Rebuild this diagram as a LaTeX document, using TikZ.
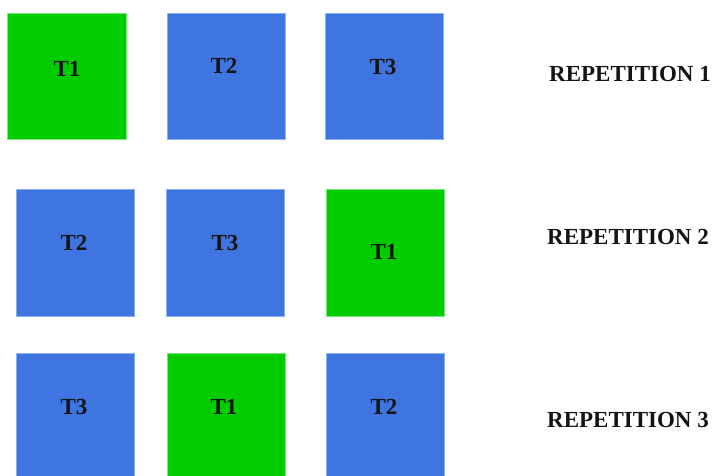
\documentclass[tikz,border=0pt]{standalone}
\usepackage{fontspec}
\setmainfont{Liberation Serif}
\definecolor{taskgreen}{RGB}{0,204,0}
\definecolor{taskblue}{RGB}{63,117,225}
\definecolor{edgegreen}{RGB}{120,230,120}
\definecolor{edgeblue}{RGB}{140,175,240}
\definecolor{labelink}{RGB}{20,20,20}
\begin{document}
\begin{tikzpicture}[x=1pt,y=-1pt,
  greenbox/.style={fill=taskgreen,draw=edgegreen,line width=0.6pt},
  bluebox/.style={fill=taskblue,draw=edgeblue,line width=0.6pt},
  tasklabel/.style={font=\fontsize{23}{23}\selectfont\bfseries,text=labelink,inner sep=0pt,text height=15pt,text depth=0pt,anchor=center},
  replabel/.style={tasklabel}]
\clip (0,0) rectangle (713,476);
\fill[white] (0,0) rectangle (713,476);
% row 1
\path[greenbox] (7.5,13) rectangle (126,139.5) coordinate (r1a);
\path[bluebox] (167,13) rectangle (285.5,139.5) coordinate (r1b);
\path[bluebox] (325,13) rectangle (443.5,139.5) coordinate (r1c);
\node[tasklabel] (l1a) at (67,69) {T1};
\node[tasklabel] (l1b) at (224,66) {T2};
\node[tasklabel] (l1c) at (383,67) {T3};
\node[replabel] (rep1) at (630,74) {REPETITION 1};
% row 2
\path[bluebox] (16,189.5) rectangle (134.5,316) coordinate (r2a);
\path[bluebox] (166,189.5) rectangle (284.5,316) coordinate (r2b);
\path[greenbox] (326.5,189.5) rectangle (444.5,316) coordinate (r2c);
\node[tasklabel] (l2a) at (74,243) {T2};
\node[tasklabel] (l2b) at (225,243) {T3};
\node[tasklabel] (l2c) at (384,252.5) {T1};
\node[replabel] (rep2) at (628,237) {REPETITION 2};
% row 3
\path[bluebox] (16,353.5) rectangle (134.5,490) coordinate (r3a);
\path[greenbox] (167,353.5) rectangle (285.5,490) coordinate (r3b);
\path[bluebox] (326.5,353.5) rectangle (444.5,490) coordinate (r3c);
\node[tasklabel] (l3a) at (74,407) {T3};
\node[tasklabel] (l3b) at (224,407) {T1};
\node[tasklabel] (l3c) at (384,407) {T2};
\node[replabel] (rep3) at (628,420) {REPETITION 3};
\end{tikzpicture}
\end{document}
